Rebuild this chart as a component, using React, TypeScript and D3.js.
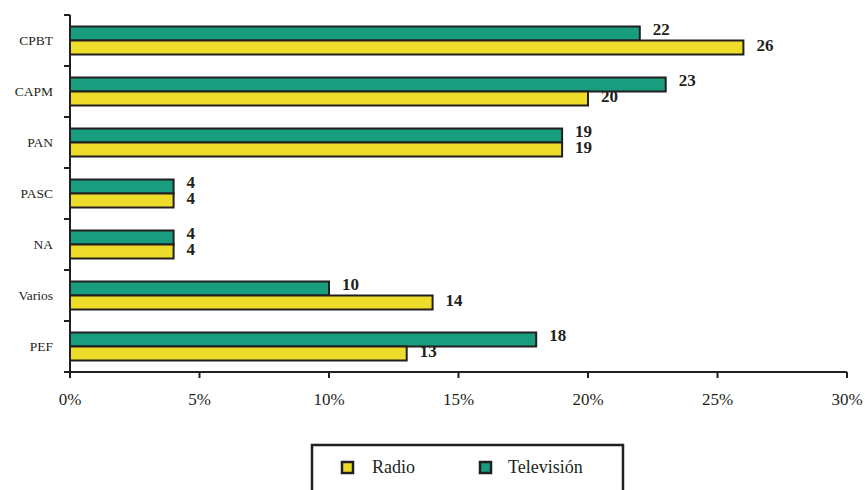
import React from "react";
import * as d3 from "d3";

const categories = ["CPBT", "CAPM", "PAN", "PASC", "NA", "Varios", "PEF"];
const television = [22, 23, 19, 4, 4, 10, 18];
const radio = [26, 20, 19, 4, 4, 14, 13];
const xTicks = [0, 5, 10, 15, 20, 25, 30];
const seriesNames = ["Radio", "Televisión"];

const W = 865, H = 490;
const GREEN = "#199d7f";
const YELLOW = "#eddd2a";
const STROKE = "#231f20";
const FONT = "'Liberation Serif', 'DejaVu Serif', serif";

export default function App() {
  const x = d3.scaleLinear().domain([0, 30]).range([70, 847]);
  const y = d3.scaleBand<string>().domain(categories).range([15, 372]).paddingInner(0).paddingOuter(0);
  const bw = y.bandwidth();
  const barH = 14;
  const boundaries = d3.range(categories.length + 1).map((i) => 15 + i * bw);

  return (
    <div style={{ position: "absolute", left: 0, top: 0 }}>
      <svg width={W} height={H} style={{ display: "block" }}>
        <rect width={W} height={H} fill="#fff" />
        {categories.map((c, i) => {
          const cy = (y(c) as number) + bw / 2;
          const tvW = x(television[i]) - x(0);
          const rW = x(radio[i]) - x(0);
          return (
            <g key={c}>
              <rect x={x(0)} y={cy - barH} width={tvW} height={barH} fill={GREEN} stroke={STROKE} strokeWidth={2} />
              <rect x={x(0)} y={cy} width={rW} height={barH} fill={YELLOW} stroke={STROKE} strokeWidth={2} />
              <text x={x(television[i]) + 13} y={cy - 6} fontFamily={FONT} fontWeight="bold" fontSize={17} fill="#231f20">
                {television[i]}
              </text>
              <text x={x(radio[i]) + 13} y={cy + 10} fontFamily={FONT} fontWeight="bold" fontSize={17} fill="#231f20">
                {radio[i]}
              </text>
              <text x={53} y={cy + 4} textAnchor="end" fontFamily={FONT} fontSize={13.5} fill="#231f20">
                {c}
              </text>
            </g>
          );
        })}
        {/* y axis */}
        <line x1={70} x2={70} y1={15} y2={372} stroke={STROKE} strokeWidth={2} />
        {boundaries.map((b, i) => (
          <line key={i} x1={64} x2={70} y1={b} y2={b} stroke={STROKE} strokeWidth={2} />
        ))}
        {/* x axis */}
        <line x1={70} x2={847} y1={372} y2={372} stroke={STROKE} strokeWidth={2} />
        {xTicks.map((t) => (
          <g key={t}>
            <line x1={x(t)} x2={x(t)} y1={372} y2={378} stroke={STROKE} strokeWidth={2} />
            <text x={x(t)} y={405} textAnchor="middle" fontFamily={FONT} fontSize={17} fill="#231f20">
              {t}%
            </text>
          </g>
        ))}
        {/* legend */}
        <rect x={312} y={445} width={311} height={60} fill="#fff" stroke={STROKE} strokeWidth={2.5} />
        <rect x={342} y={462} width={11} height={11} fill={YELLOW} stroke={STROKE} strokeWidth={2.5} />
        <text x={372} y={473} fontFamily={FONT} fontSize={18} fill="#231f20">{seriesNames[0]}</text>
        <rect x={480} y={462} width={11} height={11} fill={GREEN} stroke={STROKE} strokeWidth={2.5} />
        <text x={508} y={473} fontFamily={FONT} fontSize={18} fill="#231f20">{seriesNames[1]}</text>
      </svg>
    </div>
  );
}
